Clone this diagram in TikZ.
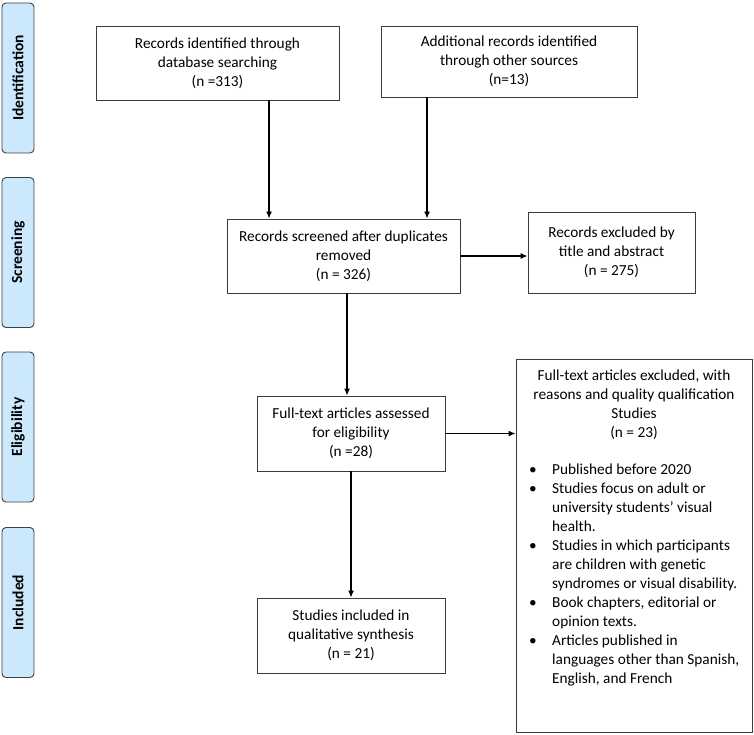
\documentclass[tikz,border=0pt]{standalone}
\usepackage{fontspec}
\setmainfont{Carlito}
\usetikzlibrary{arrows.meta}
\definecolor{phasefill}{RGB}{204,232,252}
\definecolor{phaseline}{RGB}{64,64,64}
\definecolor{boxline}{RGB}{60,60,60}
\tikzset{
  phasebox/.style={draw=phaseline, fill=phasefill, line width=0.9bp, rounded corners=4bp,
    rotate=90, minimum width=150bp, minimum height=32bp, inner sep=0pt,
    font=\fontsize{15.5bp}{18bp}\selectfont\bfseries},
  flowbox/.style={draw=boxline, line width=0.9bp, align=center, inner sep=0pt,
    font=\fontsize{15.3bp}{19bp}\selectfont},
  arr/.style={line width=1.2bp, -{Latex[length=7bp,width=6bp]}},
  txt/.style={inner sep=0pt, font=\fontsize{15.3bp}{19bp}\selectfont}
}
\begin{document}
\begin{tikzpicture}[x=1bp,y=-1bp]
\useasboundingbox (0,0) rectangle (754,735);
% phase labels
\node[phasebox] (pid) at (18,78) {Identification};
\node[phasebox] (psc) at (18,252.5) {Screening};
\node[phasebox] (pel) at (18,427) {Eligibility};
\node[phasebox] (pin) at (18,602.5) {Included};
% flow boxes
\node[flowbox, minimum width=243bp, minimum height=74bp] (box1) at (217.5,63)
  {Records identified through\\database searching\\(n =313)};
\node[flowbox, minimum width=256bp, minimum height=71bp] (box2) at (509,61.5)
  {Additional records identified\\through other sources\\(n=13)};
\node[flowbox, minimum width=233bp, minimum height=74bp] (box3) at (343.5,256)
  {Records screened after duplicates\\removed\\(n = 326)};
\node[flowbox, minimum width=167bp, minimum height=81bp] (box4) at (611.5,252.5)
  {Records excluded by\\title and abstract\\(n = 275)};
\node[flowbox, minimum width=188bp, minimum height=75bp] (box5) at (351,433.5)
  {Full-text articles assessed\\for eligibility\\(n =28)};
\node[flowbox, minimum width=188bp, minimum height=75bp] (box6) at (351,635.5)
  {Studies included in\\qualitative synthesis\\(n = 21)};
\node[draw=boxline, line width=0.9bp, minimum width=236bp, minimum height=373bp, inner sep=0pt] (big) at (634,545.5) {};
\node[txt, align=center, anchor=north] (bighead) at (634,370)
  {Full-text articles excluded, with\\reasons and quality qualification\\Studies\\(n = 23)};
\node[txt, align=left, anchor=north west] (biglist) at (529,464)
  {\makebox[23bp][l]{\textbullet}Published before 2020\\
   \makebox[23bp][l]{\textbullet}Studies focus on adult or\\
   \hspace*{23bp}university students' visual\\
   \hspace*{23bp}health.\\
   \makebox[23bp][l]{\textbullet}Studies in which participants\\
   \hspace*{23bp}are children with genetic\\
   \hspace*{23bp}syndromes or visual disability.\\
   \makebox[23bp][l]{\textbullet}Book chapters, editorial or\\
   \hspace*{23bp}opinion texts.\\
   \makebox[23bp][l]{\textbullet}Articles published in\\
   \hspace*{23bp}languages other than Spanish,\\
   \hspace*{23bp}English, and French};
% connector columns
\coordinate (c1) at (269,0);
\coordinate (c2) at (427,0);
\coordinate (c3) at (347,0);
% arrows
\draw[arr] (box1.south -| c1) -- (box3.north -| c1);
\draw[arr] (box2.south -| c2) -- (box3.north -| c2);
\draw[arr] (box3.east) -- (box3.east -| box4.west);
\draw[arr] (box3.south -| c3) -- (box5.north -| c3);
\draw[arr] (box5.east) -- (box5.east -| big.west);
\draw[arr] (box5.south) -- (box6.north);
\end{tikzpicture}
\end{document}
